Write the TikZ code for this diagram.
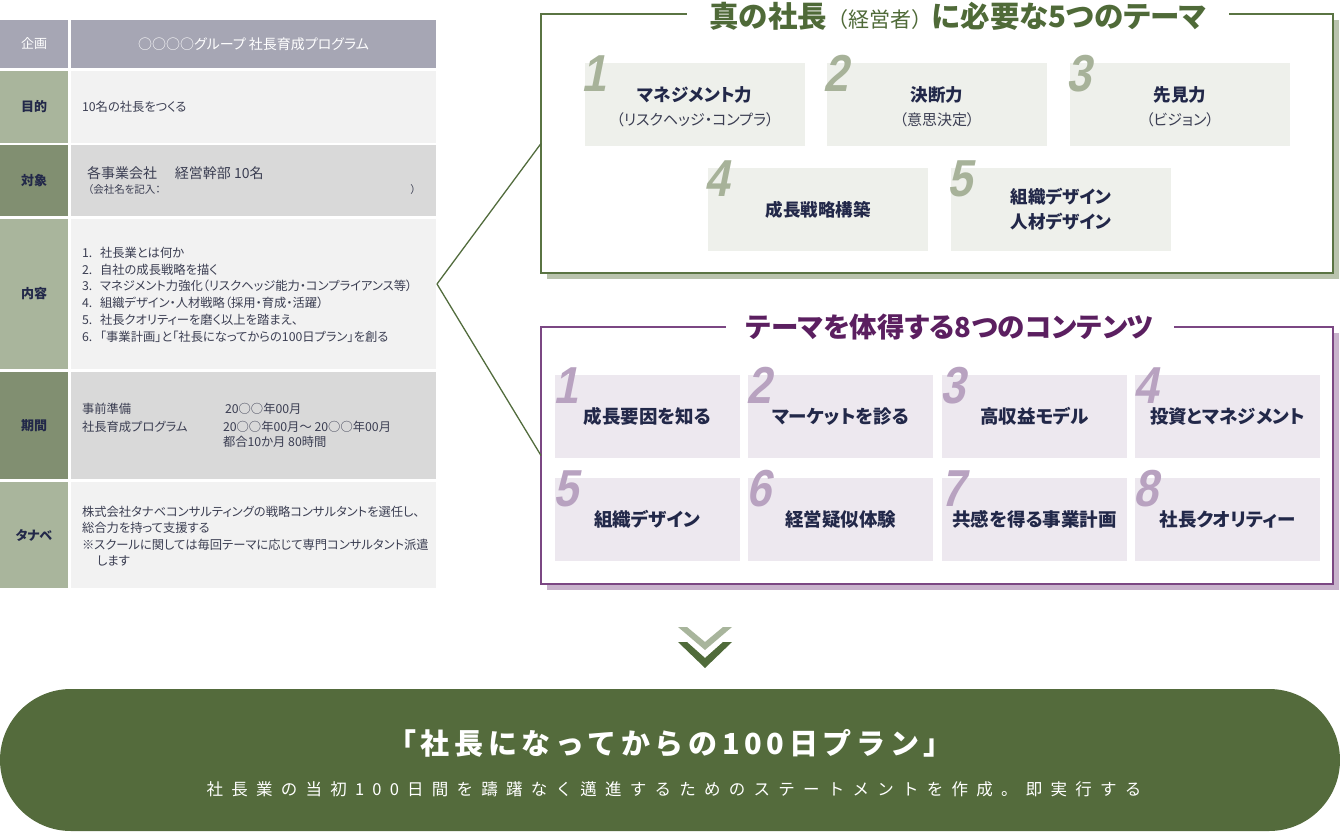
\documentclass[tikz,border=0pt]{standalone}
\usepackage{fontspec}
\usetikzlibrary{calc}
\setmainfont{Noto Sans CJK JP}[RawFeature=+palt]
\newfontfamily\numfont{Liberation Sans Bold}[FakeSlant=0.2, FakeStretch=0.85]
\newfontfamily\plainjp{Noto Sans CJK JP}
\newfontfamily\spacedfont{Noto Sans CJK JP}[LetterSpace=50]
\newfontfamily\titlespaced{Noto Sans CJK JP}[LetterSpace=16]
\definecolor{hdr}{HTML}{A6A6B4}
\definecolor{lgreen}{HTML}{A9B59C}
\definecolor{dgreen}{HTML}{818F71}
\definecolor{lcell}{HTML}{F2F2F2}
\definecolor{gcell}{HTML}{D9D9D9}
\definecolor{navy}{HTML}{222849}
\definecolor{tgray}{HTML}{3B3E52}
\definecolor{gborder}{HTML}{5A7443}
\definecolor{gshadow}{HTML}{B9C3AD}
\definecolor{gtitle}{HTML}{4F6A38}
\definecolor{themefill}{HTML}{EEF0EB}
\definecolor{gnumc}{HTML}{A7B299}
\definecolor{pborder}{HTML}{7B4783}
\definecolor{pshadow}{HTML}{C8B3CC}
\definecolor{ptitle}{HTML}{5B1F60}
\definecolor{contfill}{HTML}{EDE8EF}
\definecolor{pnumc}{HTML}{B8A2C0}
\definecolor{chevlight}{HTML}{A8B59C}
\definecolor{chevdark}{HTML}{506B3A}
\definecolor{bannerc}{HTML}{546B3C}
\definecolor{gline}{HTML}{526C3D}
\begin{document}
\begin{tikzpicture}[x=1pt,y=-1pt,
  every node/.style={inner sep=0pt, outer sep=0pt},
  cell/.style={anchor=north west, draw=none},
  lbl/.style={text=navy, font=\bfseries\fontsize{13}{15}\selectfont},
  txt/.style={anchor=west, text=tgray, font=\fontsize{12.3}{15}\selectfont, text height=11pt, text depth=2pt},
  theme/.style={anchor=north west, fill=themefill, minimum width=220pt, minimum height=83pt},
  cont/.style={anchor=north west, fill=contfill, minimum width=185pt, minimum height=83pt},
  gnum/.style={anchor=base west, text=gnumc, font=\numfont\fontsize{52}{52}\selectfont},
  pnum/.style={anchor=base west, text=pnumc, font=\numfont\fontsize{52}{52}\selectfont},
  ttext/.style={text=navy, font=\bfseries\fontsize{17.5}{20}\selectfont},
  tsub/.style={text=tgray, font=\fontsize{15}{18}\selectfont},
  ctext/.style={text=navy, font=\bfseries\fontsize{18.5}{21}\selectfont},
  conn/.style={draw=gline, line width=1.3pt},
]
\useasboundingbox (0,0) rectangle (1340,834);

% ---------------- table ----------------
\node[cell, fill=hdr, minimum width=68pt, minimum height=48pt] (h1) at (0,20) {};
\node[cell, fill=hdr, minimum width=365pt, minimum height=48pt] (h2) at (71,20) {};
\node[text=white, font=\fontsize{13}{15}\selectfont] (l1) at (h1.center) {企画};
\node[text=white, font=\fontsize{14}{16}\selectfont] (v1) at (h2.center) {○○○○グループ 社長育成プログラム};

\node[cell, fill=lgreen, minimum width=68pt, minimum height=72pt] (r2l) at (0,71) {};
\node[cell, fill=lcell, minimum width=365pt, minimum height=72pt] (r2r) at (71,71) {};
\node[lbl] (l2) at (r2l.center) {目的};
\node[txt] (v2) at (82,107) {10名の社長をつくる};

\node[cell, fill=dgreen, minimum width=68pt, minimum height=71pt] (r3l) at (0,145) {};
\node[cell, fill=gcell, minimum width=365pt, minimum height=71pt] (r3r) at (71,145) {};
\node[lbl] (l3) at (r3l.center) {対象};
\node[txt, font=\fontsize{14}{16}\selectfont] (v3a) at (87,174) {各事業会社\hspace{18pt}経営幹部 10名};
\node[txt, font=\fontsize{10.5}{12}\selectfont] (v3b) at (88,189) {（会社名を記入：};
\node[txt, anchor=east, font=\fontsize{10.5}{12}\selectfont] (v3c) at (416,189) {）};

\node[cell, fill=lgreen, minimum width=68pt, minimum height=150pt] (r4l) at (0,219) {};
\node[cell, fill=lcell, minimum width=365pt, minimum height=150pt] (r4r) at (71,219) {};
\node[lbl] (l4) at (r4l.center) {内容};
\foreach \t [count=\i] in {社長業とは何か,自社の成長戦略を描く,マネジメント力強化（リスクヘッジ能力・コンプライアンス等）,組織デザイン・人材戦略（採用・育成・活躍）,社長クオリティーを磨く以上を踏まえ、,「事業計画」と「社長になってからの100日プラン」を創る}{
  \node[txt] (cn\i) at (82,{253+16.7*(\i-1)}) {\i.};
  \node[txt] (ct\i) at (100,{253+16.7*(\i-1)}) {\t};
}

\node[cell, fill=dgreen, minimum width=68pt, minimum height=107pt] (r5l) at (0,372) {};
\node[cell, fill=gcell, minimum width=365pt, minimum height=107pt] (r5r) at (71,372) {};
\node[lbl] (l5) at (r5l.center) {期間};
\node[txt] (v5a) at (82,409) {事前準備};
\node[txt] (v5b) at (82,427) {社長育成プログラム};
\node[txt] (v5c) at (225,409) {20○○年00月};
\node[txt] (v5d) at (223,427) {20○○年00月～ 20○○年00月};
\node[txt] (v5e) at (223,442) {都合10か月 80時間};

\node[cell, fill=lgreen, minimum width=68pt, minimum height=106pt] (r6l) at (0,482) {};
\node[cell, fill=lcell, minimum width=365pt, minimum height=106pt] (r6r) at (71,482) {};
\node[lbl] (l6) at (r6l.center) {タナベ};
\node[txt] (v6a) at (82,512) {株式会社タナベコンサルティングの戦略コンサルタントを選任し、};
\node[txt] (v6b) at (82,528) {総合力を持って支援する};
\node[txt] (v6c) at (82,545) {※スクールに関しては毎回テーマに応じて専門コンサルタント派遣};
\node[txt] (v6d) at (97,561) {します};

% ---------------- top box ----------------
\node[cell, fill=gshadow, minimum width=792pt, minimum height=259pt] (tshadow) at (547,20) {};
\node[cell, fill=white, draw=gborder, line width=2pt, minimum width=792pt, minimum height=259pt] (topbox) at (541,14) {};
\node[fill=white, inner xsep=22pt, inner ysep=3pt, text=gtitle, font=\bfseries\fontsize{29.5}{32}\selectfont] (ttitle) at (958,16) {真の社長{\plainjp\mdseries\fontsize{21}{24}\selectfont（経営者）}に必要な5つのテーマ};

\node[theme] (t1) at (585,63) {};
\node[theme] (t2) at (827,63) {};
\node[theme] (t3) at (1070,63) {};
\node[theme] (t4) at (708,168) {};
\node[theme] (t5) at (951,168) {};
\foreach \i in {1,...,5}{
  \node[gnum] (tn\i) at ($(t\i.north west)+(-4,29)$) {\i};
}
\node[ttext] (t1a) at ($(t1.north)+(0,32)$) {マネジメント力};
\node[tsub] (t1b) at ($(t1.north)+(0,57)$) {（リスクヘッジ・コンプラ）};
\node[ttext] (t2a) at ($(t2.north)+(0,32)$) {決断力};
\node[tsub] (t2b) at ($(t2.north)+(0,57)$) {（意思決定）};
\node[ttext] (t3a) at ($(t3.north)+(0,32)$) {先見力};
\node[tsub] (t3b) at ($(t3.north)+(0,57)$) {（ビジョン）};
\node[ttext] (t4a) at (t4.center) {成長戦略構築};
\node[ttext] (t5a) at ($(t5.north)+(0,29)$) {組織デザイン};
\node[ttext] (t5b) at ($(t5.north)+(0,54)$) {人材デザイン};

% ---------------- purple box ----------------
\node[cell, fill=pshadow, minimum width=792pt, minimum height=257pt] (pshadowbox) at (547,333) {};
\node[cell, fill=white, draw=pborder, line width=2pt, minimum width=792pt, minimum height=257pt] (pbox) at (541,327) {};
\node[fill=white, inner xsep=20pt, inner ysep=3pt, text=ptitle, font=\bfseries\fontsize{27.5}{31}\selectfont] (ptitle) at (950,327) {テーマを体得する8つのコンテンツ};

\foreach \i/\x/\y in {1/555/375,2/748/375,3/942/375,4/1135/375,5/555/478,6/748/478,7/942/478,8/1135/478}{
  \node[cont] (c\i) at (\x,\y) {};
  \node[pnum] (cnum\i) at ($(c\i.north west)+(-2,28)$) {\i};
}
\node[ctext] (c1t) at (c1.center) {成長要因を知る};
\node[ctext] (c2t) at (c2.center) {マーケットを診る};
\node[ctext] (c3t) at (c3.center) {高収益モデル};
\node[ctext] (c4t) at (c4.center) {投資とマネジメント};
\node[ctext] (c5t) at (c5.center) {組織デザイン};
\node[ctext] (c6t) at (c6.center) {経営疑似体験};
\node[ctext] (c7t) at (c7.center) {共感を得る事業計画};
\node[ctext] (c8t) at (c8.center) {社長クオリティー};

% ---------------- connectors ----------------
\coordinate (apex) at (437,284);
\draw[conn] (apex) -- (topbox.west);
\draw[conn] (apex) -- (pbox.west);

% ---------------- chevrons ----------------
\fill[chevlight] (678,627) -- (705,650) -- (732,627) -- (723,627) -- (705,642) -- (687,627) -- cycle;
\fill[chevdark] (678,642) -- (705,668) -- (732,642) -- (723,642) -- (705,658) -- (687,642) -- cycle;

% ---------------- banner ----------------
\node[cell, fill=bannerc, rounded corners=71pt, minimum width=1340pt, minimum height=142pt] (banner) at (0,689) {};
\node[text=white, font=\titlespaced\bfseries\fontsize{29}{32}\selectfont] (btitle) at (670,743) {「社長になってからの100日プラン」};
\node[text=white, font=\spacedfont\fontsize{16.5}{20}\selectfont] (bsub) at (674,789) {社長業の当初100日間を躊躇なく邁進するためのステートメントを作成。即実行する};
\end{tikzpicture}
\end{document}
